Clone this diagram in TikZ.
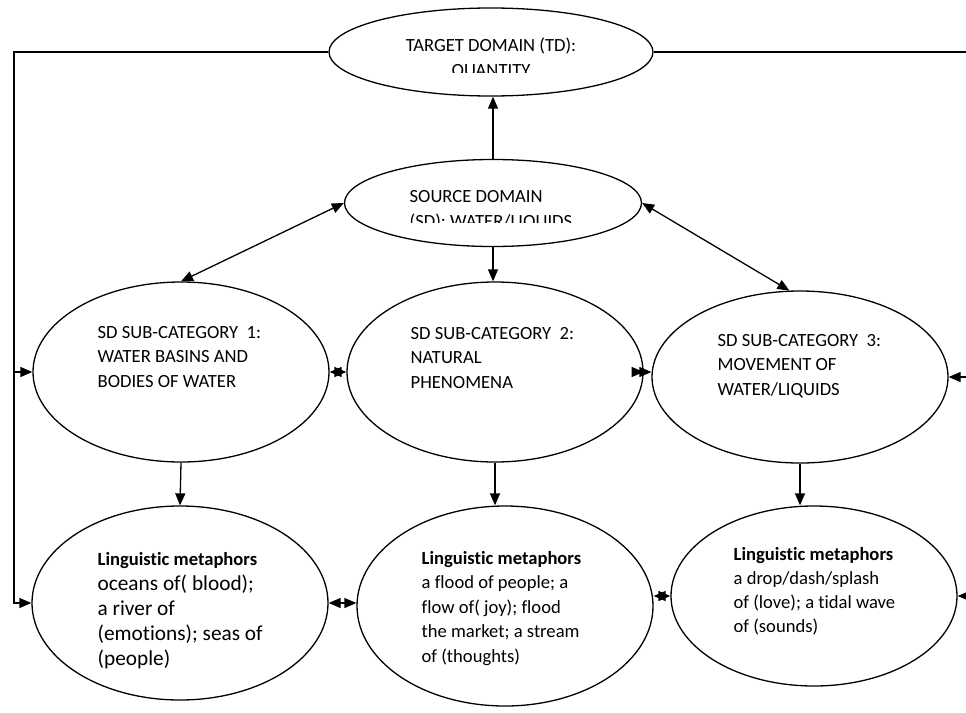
\documentclass[tikz,border=0pt]{standalone}
\usepackage{fontspec}
\setmainfont{Carlito}[Ligatures=NoCommon]
\usepackage{tikz}
\usetikzlibrary{shapes.geometric, arrows.meta, calc}

\begin{document}
\begin{tikzpicture}[x=1pt, y=-1pt, line width=1.3pt,
    blob/.style={ellipse, draw, inner sep=0pt},
    txt/.style={inner sep=0pt, align=left, anchor=base west,
        font=\fontsize{18.6}{24.5}\selectfont},
    >={Triangle[length=12pt, width=10pt]}]
    \useasboundingbox (0,0) rectangle (966,712);
    \clip (0,0) rectangle (966,712);

    % ellipses
    \node[blob, minimum width=324pt, minimum height=88pt] (td) at (491,52) {};
    \node[blob, minimum width=297pt, minimum height=87pt] (sd) at (493,203) {};
    \node[blob, minimum width=296pt, minimum height=180pt] (cat1) at (181,372) {};
    \node[blob, minimum width=296pt, minimum height=180pt] (cat2) at (495,372) {};
    \node[blob, minimum width=296pt, minimum height=172pt] (cat3) at (800,377) {};
    \node[blob, minimum width=296pt, minimum height=194pt] (lm1) at (180,603) {};
    \node[blob, minimum width=296pt, minimum height=200pt] (lm2) at (505,606) {};
    \node[blob, minimum width=286pt, minimum height=180pt] (lm3) at (814,596) {};

    % texts (anchored at the last line; the two top boxes are cut off)
    \begin{scope}
        \clip (300,0) rectangle (700,72);
        \node[txt, align=center, anchor=base] (td-text) at (491,76)
            {TARGET DOMAIN (TD):\\QUANTITY};
    \end{scope}
    \begin{scope}
        \clip (340,150) rectangle (650,222);
        \node[txt] (sd-text) at (409,227) {SOURCE DOMAIN\\(SD): WATER/LIQUIDS};
    \end{scope}
    \node[txt] (cat1-text) at (97,387)
        {SD SUB-CATEGORY\ \ 1:\\WATER BASINS AND\\BODIES OF WATER};
    \node[txt] (cat2-text) at (410,388)
        {SD SUB-CATEGORY\ \ 2:\\NATURAL\\PHENOMENA};
    \node[txt] (cat3-text) at (717,395)
        {SD SUB-CATEGORY\ \ 3:\\MOVEMENT OF\\WATER/LIQUIDS};
    \node[txt, font=\fontsize{18.6}{25}\selectfont] (lm1-text) at (97,665)
        {\textbf{Linguistic metaphors}\\
         {\fontsize{21.3}{25}\selectfont oceans of( blood);}\\
         {\fontsize{21.3}{25}\selectfont a river of}\\
         {\fontsize{21.3}{25}\selectfont (emotions); seas of}\\
         {\fontsize{21.3}{25}\selectfont (people)}};
    \node[txt] (lm2-text) at (421,662)
        {\textbf{Linguistic metaphors}\\a flood of people; a\\flow of( joy); flood\\the market; a stream\\of (thoughts)};
    \node[txt, font=\fontsize{18.6}{23.7}\selectfont] (lm3-text) at (733,632)
        {\textbf{Linguistic metaphors}\\a drop/dash/splash\\of (love); a tidal wave\\of (sounds)};

    % connectors
    \coordinate (lft) at (14,0);
    \coordinate (rgt) at (990,0);
    \draw[->] (sd.north) -- (sd.north |- td.south);
    \draw[->] (sd.south) -- (sd.south |- cat2.north);
    \draw[<->] (cat1.north) -- (sd.west);
    \draw[<->] (sd.east) -- (cat3.97);
    \draw[<->] (cat1.east) -- (cat2.west);
    \draw[<->] (cat2.east) -- (cat2.east -| cat3.west);
    \draw[->] (cat1.south) -- (lm1.north);
    \draw[->] (cat2.south) -- (cat2.south |- lm2.north);
    \draw[->] (cat3.south) -- (cat3.south |- lm3.north);
    \draw[<->] (lm1.east) -- (lm1.east -| lm2.west);
    \draw[<->] (lm3.west -| lm2.east) -- (lm3.west);

    \draw[->] (td.west) -| (lft |- lm1.west) -- (lm1.west);
    \draw[->] (lft |- cat1.west) -- (cat1.west);
    \draw (td.east) -| (rgt |- lm3.east);
    \draw[->] (rgt |- cat3.east) -- (cat3.east);
    \draw[->] (rgt |- lm3.east) -- (lm3.east);
\end{tikzpicture}
\end{document}
